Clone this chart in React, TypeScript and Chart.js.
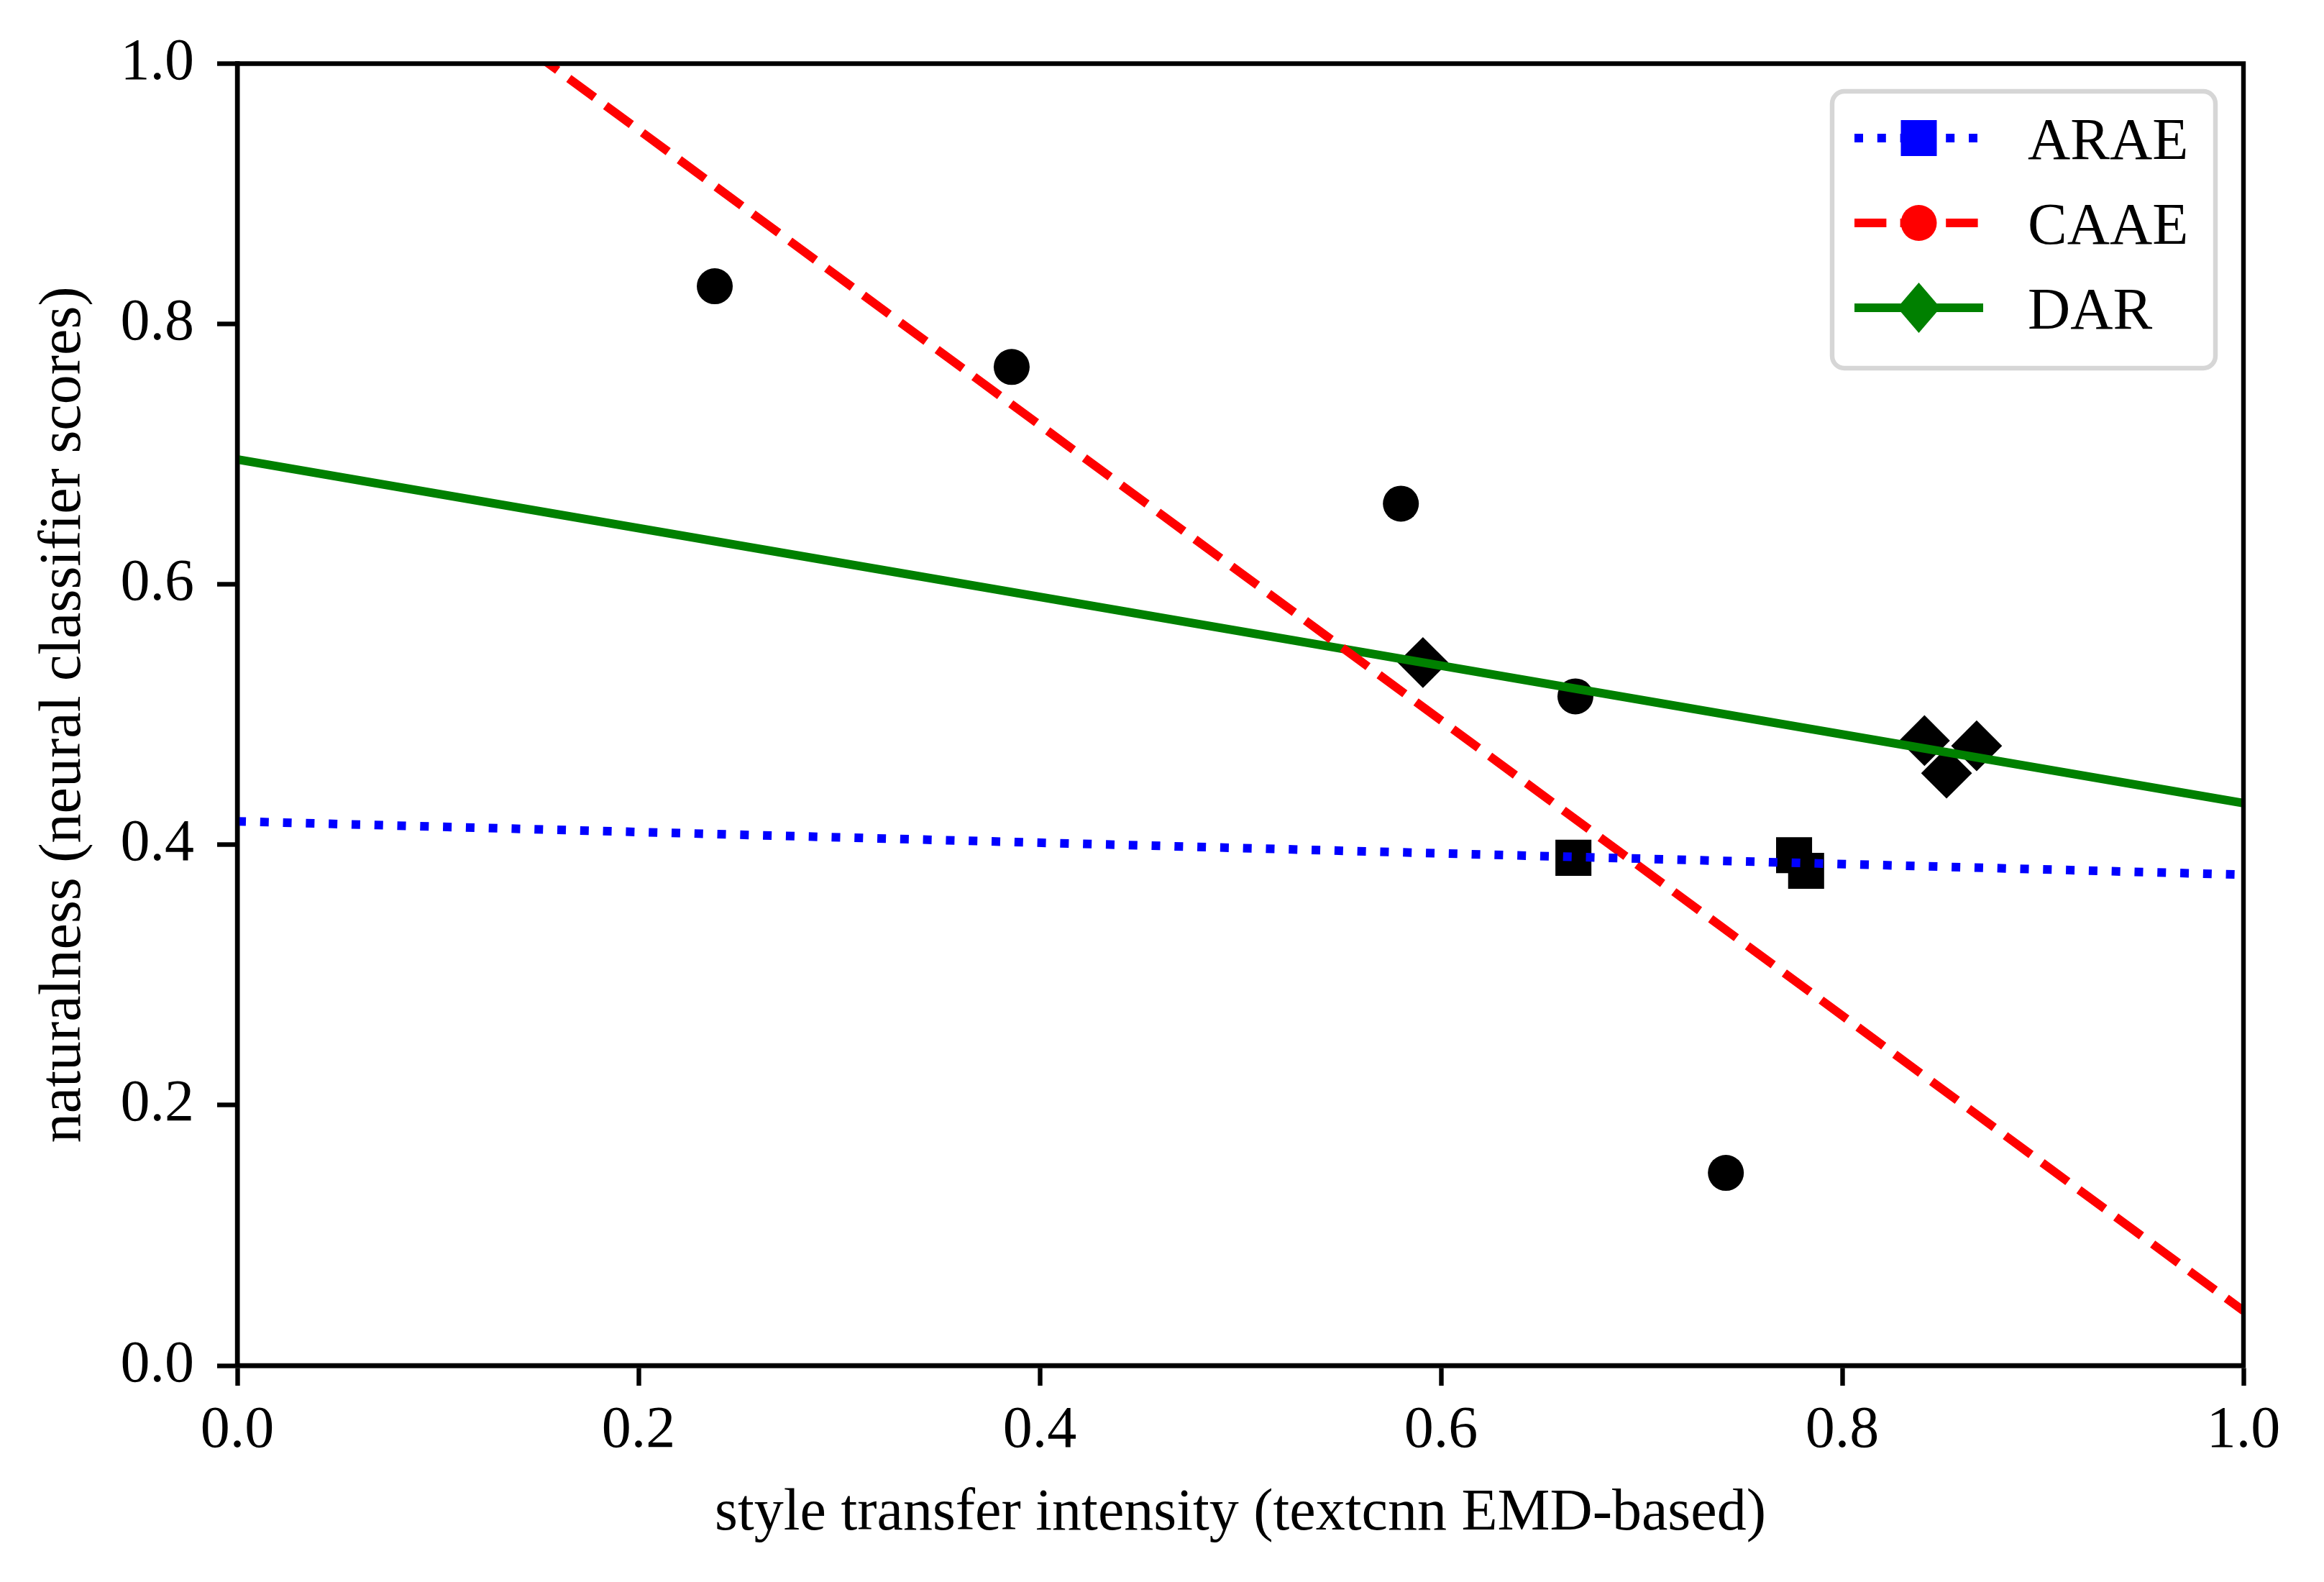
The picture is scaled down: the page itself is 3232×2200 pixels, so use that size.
import { useEffect, useRef } from 'react';
import { Chart, registerables } from 'chart.js';

Chart.register(...registerables);

const FONT = '"Liberation Serif", "Times New Roman", serif';
const FONT_SIZE = 82;

const seriesNames = ['ARAE', 'CAAE', 'DAR'];
const seriesColors = ['rgb(0,0,255)', 'rgb(255,0,0)', 'rgb(0,128,0)'];
const seriesDash = [[12, 19.8], [44.4, 19.2], []];
const seriesMarkers = ['rect', 'circle', 'rectRot'];

// measured systems (black markers)
const araeX = [0.666, 0.776, 0.782];
const araeY = [0.390, 0.392, 0.380];
const caaeX = [0.238, 0.386, 0.580, 0.667, 0.742];
const caaeY = [0.829, 0.767, 0.662, 0.514, 0.148];
const darX = [0.591, 0.841, 0.852, 0.867];
const darY = [0.540, 0.480, 0.455, 0.476];

const fitX = [0, 1];
const araeFit = [0.418, 0.377];
const caaeFit = [1.176, 0.042];
const darFit = [0.696, 0.432];

const xTicks = [0, 0.2, 0.4, 0.6, 0.8, 1.0];
const yTicks = [0, 0.2, 0.4, 0.6, 0.8, 1.0];

const toPoints = (xs: number[], ys: number[]) => xs.map((x, i) => ({ x, y: ys[i] }));

const spinesPlugin = {
  id: 'spines',
  afterDatasetsDraw(chart: any) {
    const { ctx, chartArea: a } = chart;
    ctx.save();
    ctx.strokeStyle = '#000';
    ctx.lineWidth = 6.4;
    ctx.lineCap = 'square';
    ctx.beginPath();
    ctx.rect(a.left, a.top, a.right - a.left, a.bottom - a.top);
    ctx.stroke();
    ctx.restore();
  },
};

const drawMarker = (ctx: CanvasRenderingContext2D, style: string, x: number, y: number) => {
  ctx.beginPath();
  if (style === 'rect') {
    ctx.rect(x - 25, y - 25, 50, 50);
  } else if (style === 'circle') {
    ctx.arc(x, y, 25, 0, Math.PI * 2);
  } else {
    ctx.moveTo(x, y - 35);
    ctx.lineTo(x + 30, y);
    ctx.lineTo(x, y + 35);
    ctx.lineTo(x - 30, y);
    ctx.closePath();
  }
  ctx.fill();
};

const legendPlugin = {
  id: 'mplLegend',
  afterDraw(chart: any) {
    const { ctx, chartArea: a } = chart;
    const right = a.right - 39;
    const top = a.top + 38.5;
    const left = right - 533;
    const bottom = top + 385;
    const r = 17;
    ctx.save();
    ctx.beginPath();
    ctx.moveTo(left + r, top);
    ctx.arcTo(right, top, right, bottom, r);
    ctx.arcTo(right, bottom, left, bottom, r);
    ctx.arcTo(left, bottom, left, top, r);
    ctx.arcTo(left, top, right, top, r);
    ctx.closePath();
    ctx.fillStyle = 'rgba(255,255,255,0.8)';
    ctx.fill();
    ctx.strokeStyle = 'rgba(204,204,204,0.8)';
    ctx.lineWidth = 6.4;
    ctx.stroke();

    seriesNames.forEach((name, i) => {
      const y = top + 65 + i * 118;
      const x0 = left + 31;
      const x1 = left + 210;
      ctx.strokeStyle = seriesColors[i];
      ctx.lineWidth = 12;
      ctx.lineCap = 'butt';
      ctx.setLineDash(seriesDash[i]);
      ctx.beginPath();
      ctx.moveTo(x0, y);
      ctx.lineTo(x1, y);
      ctx.stroke();
      ctx.setLineDash([]);
      ctx.fillStyle = seriesColors[i];
      drawMarker(ctx, seriesMarkers[i], (x0 + x1) / 2, y);
      ctx.fillStyle = '#000';
      ctx.font = `${FONT_SIZE}px ${FONT}`;
      ctx.textAlign = 'left';
      ctx.textBaseline = 'alphabetic';
      ctx.fillText(name, left + 272, y + 29);
    });
    ctx.restore();
  },
};

const App = () => {
  const canvasRef = useRef<HTMLCanvasElement | null>(null);
  const chartRef = useRef<Chart | null>(null);

  useEffect(() => {
    document.body.style.margin = '0';
    if (!canvasRef.current) return;
    if (chartRef.current) chartRef.current.destroy();

    const tickFont = { family: FONT, size: FONT_SIZE, lineHeight: 1.2 };
    const fits = [araeFit, caaeFit, darFit];
    const scatters = [
      toPoints(araeX, araeY),
      toPoints(caaeX, caaeY),
      toPoints(darX, darY),
    ];

    const lineSets = seriesNames.map((name, i) => ({
      type: 'line' as const,
      label: name,
      data: toPoints(fitX, fits[i]),
      borderColor: seriesColors[i],
      borderWidth: 12,
      borderDash: seriesDash[i],
      pointRadius: 0,
      fill: false,
      clip: 0,
      order: 0,
    }));

    const markerSets = seriesNames.map((name, i) => ({
      type: 'scatter' as const,
      label: name + ' points',
      data: scatters[i],
      pointStyle: seriesMarkers[i],
      pointRadius: seriesMarkers[i] === 'circle' ? 25 : 35.4,
      backgroundColor: '#000',
      borderWidth: 0,
      order: 1,
    }));

    chartRef.current = new Chart(canvasRef.current, {
      type: 'scatter',
      data: { datasets: [...lineSets, ...markerSets] as any },
      options: {
        animation: false,
        responsive: false,
        devicePixelRatio: 1,
        events: [],
        layout: { autoPadding: false, padding: { left: 0, top: 88.5, right: 112, bottom: 0 } },
        plugins: {
          legend: { display: false },
          tooltip: { enabled: false },
        },
        scales: {
          x: {
            type: 'linear',
            min: 0,
            max: 1,
            afterBuildTicks: (scale: any) => {
              scale.ticks = xTicks.map(value => ({ value }));
            },
            afterFit: (scale: any) => {
              scale.height = 301;
            },
            ticks: {
              color: '#000',
              font: tickFont,
              padding: 14,
              maxRotation: 0,
              callback: (v: any) => Number(v).toFixed(1),
            },
            grid: {
              drawOnChartArea: false,
              drawTicks: true,
              tickLength: 28,
              tickWidth: 6.4,
              tickColor: '#000',
            },
            border: { display: true, color: '#000', width: 6.4 },
            title: {
              display: true,
              text: 'style transfer intensity (textcnn EMD-based)',
              color: '#000',
              font: { family: FONT, size: FONT_SIZE, lineHeight: 1.2 },
              padding: { top: 0, bottom: 45 },
            },
          },
          y: {
            type: 'linear',
            min: 0,
            max: 1,
            afterBuildTicks: (scale: any) => {
              scale.ticks = yTicks.map(value => ({ value }));
            },
            afterFit: (scale: any) => {
              scale.width = 330;
            },
            ticks: {
              color: '#000',
              font: tickFont,
              padding: 32,
              callback: (v: any) => Number(v).toFixed(1),
            },
            grid: {
              drawOnChartArea: false,
              drawTicks: true,
              tickLength: 28,
              tickWidth: 6.4,
              tickColor: '#000',
            },
            border: { display: true, color: '#000', width: 6.4 },
            title: {
              display: true,
              text: 'naturalness (neural classifier scores)',
              color: '#000',
              font: { family: FONT, size: FONT_SIZE, lineHeight: 1.2 },
              padding: { top: 40, bottom: 0 },
            },
          },
        },
      },
      plugins: [spinesPlugin, legendPlugin],
    });

    return () => {
      if (chartRef.current) {
        chartRef.current.destroy();
        chartRef.current = null;
      }
    };
  }, []);

  return (
    <canvas
      ref={canvasRef}
      width={3232}
      height={2200}
      style={{ display: 'block', width: 3232, height: 2200 }}
    />
  );
};

export default App;
